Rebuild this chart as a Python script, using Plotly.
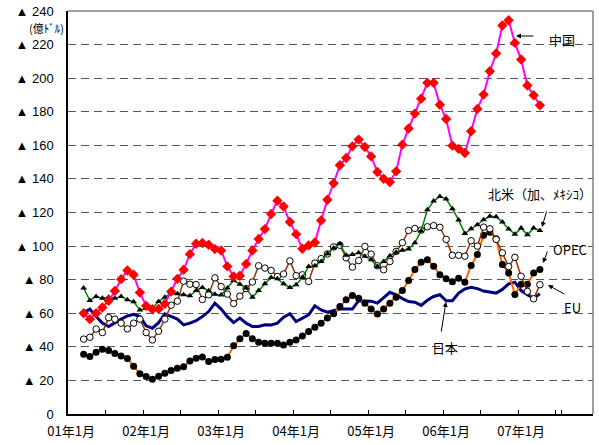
"""Trade deficit by partner, 3-month figures (億ドル), 2001-2007"""

import plotly.graph_objects as go

# category axis: one slot per month, 01年1月 .. 07年12月
MONTHS = [f"{y:02d}年{m}月" for y in range(1, 8) for m in range(1, 13)]
YEAR_TICKS = [f"{y:02d}年1月" for y in range(1, 8)]

# series run from 01年3月 to 07年4月
X_DATA = MONTHS[2:76]

china = [60.0, 56.5, 60.0, 63.4, 67.4, 73.3, 80.3, 85.5, 82.9, 72.3,
         64.4, 62.4, 62.6, 65.6, 72.9, 80.5, 85.9, 95.2, 101.4, 101.8,
         100.8, 98.2, 97.4, 87.9, 81.9, 82.3, 89.4, 97.4, 104.2, 110.1,
         119.1, 127.0, 123.6, 114.3, 107.1, 98.4, 100.4, 102.1, 115.3, 127.6,
         137.4, 148.1, 152.5, 159.4, 163.4, 159.0, 153.4, 144.1, 140.1, 138.2,
         144.5, 160.4, 170.0, 178.9, 187.7, 197.2, 197.2, 184.2, 175.7, 159.8,
         157.9, 155.4, 168.4, 181.7, 190.2, 204.1, 214.7, 231.4, 234.5, 221.0,
         211.1, 195.6, 189.8, 183.8]

north_america = [75.0, 67.6, 70.0, 69.0, 69.6, 69.0, 70.0, 68.0, 66.8, 62.0,
                 63.0, 63.0, 67.0, 69.6, 72.0, 71.6, 71.0, 70.4, 73.5, 75.3,
                 73.4, 71.3, 70.8, 75.0, 79.5, 77.3, 75.0, 69.6, 73.5, 77.5,
                 81.3, 80.5, 77.5, 75.3, 76.9, 81.3, 87.8, 88.3, 90.8, 95.4,
                 98.8, 101.4, 94.5, 95.0, 96.0, 94.0, 91.8, 87.8, 90.8, 94.2,
                 96.3, 97.5, 98.2, 102.0, 109.0, 121.6, 126.8, 129.6, 128.0, 122.3,
                 115.5, 107.5, 110.3, 112.7, 115.7, 117.7, 117.5, 114.3, 110.2, 107.1,
                 110.7, 106.7, 110.7, 109.3]

eu = [44.6, 45.7, 50.6, 48.5, 57.4, 56.5, 54.1, 50.7, 54.1, 56.5,
      48.5, 44.1, 49.3, 56.5, 64.8, 67.2, 79.1, 77.3, 77.1, 68.2,
      71.0, 81.1, 75.9, 71.4, 65.8, 70.2, 74.7, 78.6, 88.3, 86.9,
      85.5, 81.9, 83.4, 91.2, 82.4, 82.9, 78.9, 89.9, 92.5, 95.3,
      99.5, 100.5, 93.0, 87.5, 91.4, 99.8, 95.2, 88.3, 85.9, 90.8,
      96.8, 102.0, 109.3, 110.5, 109.5, 111.5, 112.2, 111.2, 104.0, 94.5,
      94.5, 94.0, 103.2, 100.0, 111.3, 110.3, 104.0, 96.0, 87.8, 93.3,
      82.0, 73.0, 68.6, 77.0]

opec = [35.6, 34.2, 36.8, 38.6, 37.8, 36.0, 34.6, 33.0, 28.5, 24.0,
        22.3, 20.7, 22.5, 24.3, 25.9, 27.2, 28.2, 31.6, 33.2, 34.0,
        31.2, 32.4, 32.6, 33.8, 40.6, 44.8, 47.9, 44.8, 42.8, 42.1,
        42.1, 42.1, 41.1, 42.7, 44.1, 46.5, 49.1, 51.7, 54.1, 57.1,
        59.7, 64.0, 68.0, 70.5, 69.0, 66.0, 62.5, 59.5, 62.5, 66.0,
        69.5, 73.5, 79.5, 86.0, 90.3, 91.8, 88.0, 83.0, 80.5, 78.8,
        80.8, 78.5, 88.4, 95.0, 106.5, 108.2, 104.3, 89.0, 84.0, 71.2,
        77.3, 77.3, 84.0, 86.0]

japan = [60.4, 62.4, 58.0, 54.1, 52.1, 54.4, 56.5, 58.4, 59.4, 58.0,
         52.5, 51.1, 54.4, 59.6, 58.0, 56.5, 53.1, 54.1, 55.6, 58.0,
         61.0, 66.0, 62.5, 58.0, 54.4, 57.1, 54.1, 52.1, 52.1, 53.1,
         53.0, 54.1, 57.7, 59.8, 55.0, 57.1, 59.0, 64.4, 62.0, 60.6,
         61.5, 62.5, 62.5, 62.5, 67.5, 67.5, 67.2, 66.0, 69.0, 72.5,
         71.0, 68.7, 67.0, 66.6, 64.7, 67.7, 70.0, 71.0, 67.4, 67.5,
         72.0, 74.5, 75.5, 74.7, 73.2, 72.5, 72.0, 74.2, 77.5, 78.5,
         73.5, 71.0, 69.0, 71.6]

Y_TICKS = list(range(0, 241, 20))
Y_TICK_TEXT = ["0"] + [f"▲ {v}" for v in Y_TICKS[1:]]

FONT = "Arial, 'Liberation Sans', 'Noto Sans CJK JP', sans-serif"
JP_FONT = "'Noto Sans CJK JP', sans-serif"

# plot area in pixels, used to place the hand drawn labels/arrows
W, H = 599, 445
L, R, T, B = 68, 6, 11, 31
PW, PH = W - L - R, H - T - B


def px(x):
    return (x - L) / PW


def py(y):
    return (H - B - y) / PH


fig = go.Figure()

fig.add_trace(go.Scatter(x=X_DATA, y=japan, mode="lines", name="日本",
                         line=dict(color="#000080", width=3)))
fig.add_trace(go.Scatter(x=X_DATA, y=opec, mode="lines+markers", name="OPEC",
                         line=dict(color="#FF6600", width=2),
                         marker=dict(symbol="circle", size=7, color="black")))
fig.add_trace(go.Scatter(x=X_DATA, y=eu, mode="lines+markers", name="EU",
                         line=dict(color="#993300", width=1.5),
                         marker=dict(symbol="circle", size=6.5, color="white",
                                     line=dict(color="black", width=1))))
fig.add_trace(go.Scatter(x=X_DATA, y=north_america, mode="lines+markers", name="北米",
                         line=dict(color="#008000", width=1.5),
                         marker=dict(symbol="triangle-up", size=6, color="black")))
fig.add_trace(go.Scatter(x=X_DATA, y=china, mode="lines+markers", name="中国",
                         line=dict(color="#FF00FF", width=2),
                         marker=dict(symbol="diamond", size=8, color="#FF0000")))

fig.update_layout(
    width=W, height=H,
    margin=dict(l=L, r=R, t=T, b=B, autoexpand=False),
    paper_bgcolor="white", plot_bgcolor="white",
    showlegend=False,
    font=dict(family=FONT, size=13, color="black"),
)

fig.update_xaxes(
    type="category", categoryorder="array", categoryarray=MONTHS,
    range=[-0.5, len(MONTHS) - 0.5],
    tickmode="array",
    tickvals=MONTHS[::6],
    ticktext=[m if m in YEAR_TICKS else "" for m in MONTHS[::6]],
    tickangle=0, automargin=False, ticklabelstandoff=5,
    tickson="boundaries", ticks="inside", ticklen=4, tickcolor="black",
    showline=True, linecolor="black", linewidth=1.5,
    showgrid=False, zeroline=False,
    tickfont=dict(family=JP_FONT, size=13),
)

fig.update_yaxes(
    range=[0, 240], automargin=False,
    tickmode="array", tickvals=Y_TICKS, ticktext=Y_TICK_TEXT,
    showline=True, linecolor="black", linewidth=1.5,
    showgrid=True, gridcolor="#555555", gridwidth=1, griddash="8px,5px",
    zeroline=False, ticks="", ticklabelstandoff=10,
    tickfont=dict(family=FONT, size=13),
)

# gray frame on top and right
fig.add_shape(type="line", xref="paper", yref="paper", x0=0, x1=1, y0=1, y1=1,
              line=dict(color="#808080", width=1.5))
fig.add_shape(type="line", xref="paper", yref="paper", x0=1, x1=1, y0=0, y1=1,
              line=dict(color="#808080", width=1.5))

# unit label
fig.add_annotation(text="(億ﾄﾞﾙ)", xref="paper", yref="paper", x=px(46), y=py(28),
                   xanchor="center", yanchor="middle",
                   showarrow=False, font=dict(family=JP_FONT, size=11))

# series labels
labels = [
    ("中国", 562, 39),
    ("北米（加、ﾒｷｼｺ）", 540, 193),
    ("OPEC", 570, 249),
    ("EU", 572, 307),
    ("日本", 445, 347),
]
for txt, lx, ly in labels:
    fig.add_annotation(text=txt, xref="paper", yref="paper", x=px(lx), y=py(ly),
                       xanchor="center", yanchor="middle",
                       showarrow=False, font=dict(family=JP_FONT, size=13))

# pointer arrows: head (x, y), tail offset (ax, ay) in pixels
arrows = [
    (516, 36, 19, 0),
    (542, 227, 5, -17),
    (543, 263, 5, -13),
    (548, 285, 18, 10),
    (446, 302, -5, 31),
]
for hx, hy, ax, ay in arrows:
    fig.add_annotation(text="", xref="paper", yref="paper", x=px(hx), y=py(hy),
                       ax=ax, ay=ay, showarrow=True, arrowhead=2, arrowsize=1,
                       arrowwidth=1, arrowcolor="black")

# drop the default page margin so the chart sits at the window's corner
fig.write_html("out.html", config={"displayModeBar": False},
               post_script="document.body.style.margin = '0px';")
